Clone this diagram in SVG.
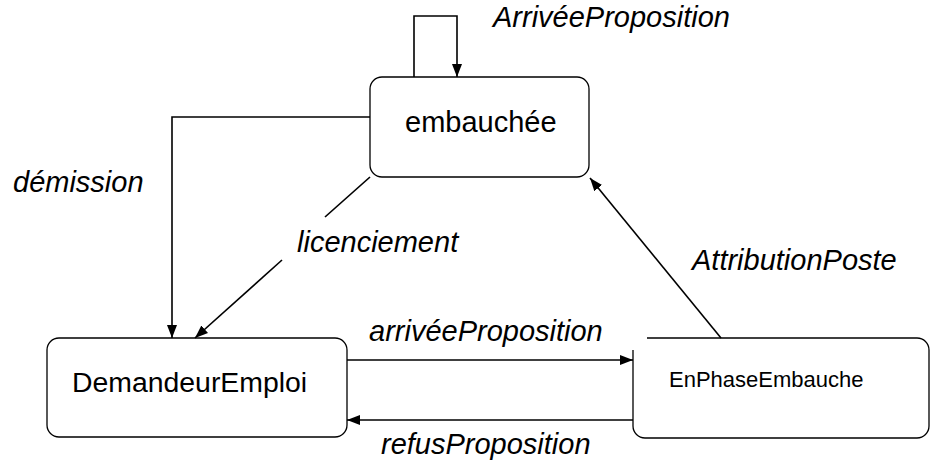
<svg xmlns="http://www.w3.org/2000/svg" width="932" height="463" viewBox="0 0 932 463">
<defs>
<marker id="arr" markerUnits="userSpaceOnUse" markerWidth="14" markerHeight="12" viewBox="0 0 14 12" refX="13" refY="6" orient="auto">
<path d="M0,1 L13,6 L0,11 Z" fill="#000"/>
</marker>
<style>
.box{fill:#fff;stroke:#000;stroke-width:1.3}
.lbl{font-family:"Liberation Sans",Arial,sans-serif;font-style:italic;font-size:29px;fill:#000}
.txt{font-family:"Liberation Sans",Arial,sans-serif;fill:#000}
.con{fill:none;stroke:#000;stroke-width:1.6}
</style>
</defs>
<rect width="932" height="463" fill="#fff"/>
<g id="embauchee">
<rect class="box" x="370" y="77" width="219" height="100" rx="12"/>
<text class="txt" x="405" y="132" font-size="29">embauchée</text>
</g>
<g id="demandeurEmploi">
<rect class="box" x="47" y="338" width="300" height="99" rx="12"/>
<text class="txt" x="72" y="392" font-size="28.4">DemandeurEmploi</text>
</g>
<g id="enPhaseEmbauche">
<path class="box" d="M647,338 H917 A12,12 0 0 1 929,350 V426 A12,12 0 0 1 917,438 H645 A12,12 0 0 1 633,426 V350"/>
<text class="txt" x="669" y="387" font-size="22">EnPhaseEmbauche</text>
</g>
<g id="connectors">
<path class="con" d="M414,77 V16 H457 V77" marker-end="url(#arr)"/>
<path class="con" d="M370,117 H172 V338" marker-end="url(#arr)"/>
<path class="con" d="M370,177 L325,217"/>
<path class="con" d="M282,260 L195,338" marker-end="url(#arr)"/>
<path class="con" d="M347,360 H633" marker-end="url(#arr)"/>
<path class="con" d="M633,420 H347" marker-end="url(#arr)"/>
<path class="con" d="M721,338 L590,178" marker-end="url(#arr)"/>
<text class="lbl" x="493" y="27">ArrivéeProposition</text>
<text class="lbl" x="13" y="192" font-size="28">démission</text>
<text class="lbl" x="297" y="252">licenciement</text>
<text class="lbl" x="692" y="270">AttributionPoste</text>
<text class="lbl" x="369" y="341">arrivéeProposition</text>
<text class="lbl" x="381" y="454">refusProposition</text>
</g>
</svg>
